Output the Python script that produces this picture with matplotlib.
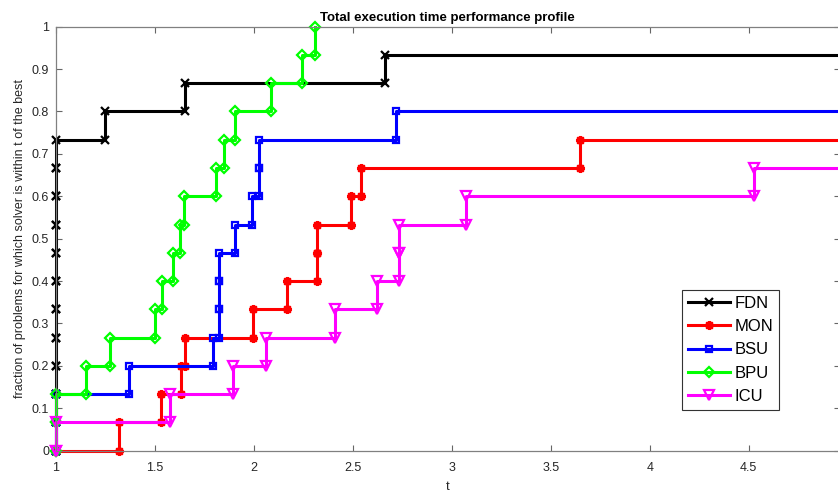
import numpy as np
import matplotlib.pyplot as plt

plt.rcParams['font.family'] = ['Liberation Sans', 'DejaVu Sans']

# performance ratios per solver (15 problems), unsolved ones sit off the plot
n_problems = 15
fail = 10.0

solvers = ['FDN', 'MON', 'BSU', 'BPU', 'ICU']
fdn = [1, 1, 1, 1, 1, 1, 1, 1, 1, 1, 1, 1.249, 1.65, 2.665, fail]
mon = [1.32, 1.53, 1.63, 1.652, 1.997, 2.165, 2.32, 2.32, 2.49, 2.54, 3.646,
       fail, fail, fail, fail]
bsu = [1, 1, 1.37, 1.795, 1.825, 1.825, 1.825, 1.904, 1.988, 2.025, 2.025, 2.72,
       fail, fail, fail]
bpu = [1, 1, 1.152, 1.273, 1.50, 1.537, 1.591, 1.626, 1.648, 1.808, 1.848, 1.904,
       2.084, 2.241, 2.31]
icu = [1, 1.576, 1.892, 2.061, 2.409, 2.62, 2.735, 2.735, 3.07, 4.525,
       fail, fail, fail, fail, fail]

x_ticks = [1, 1.5, 2, 2.5, 3, 3.5, 4, 4.5]
x_labels = ['1', '1.5', '2', '2.5', '3', '3.5', '4', '4.5']
y_ticks = [0, 0.1, 0.2, 0.3, 0.4, 0.5, 0.6, 0.7, 0.8, 0.9, 1]
y_labels = ['0', '0.1', '0.2', '0.3', '0.4', '0.5', '0.6', '0.7', '0.8', '0.9', '1']

colors = ['k', (1, 0, 0), (0, 0, 1), (0, 1, 0), (1, 0, 1)]
markers = ['x', (8, 2, 0), 's', 'D', 'v']
msizes = [6, 6.5, 5, 5, 7.5]


def stairs(ratios):
    # same vertices matlab's stairs() gives, starting from (1, 0)
    r = np.sort(np.asarray(ratios, dtype=float))
    y = np.arange(1, len(r) + 1) / float(n_problems)
    xs = np.concatenate([[1.0], np.repeat(r, 2)])
    ys = np.concatenate([[0.0, 0.0], np.repeat(y, 2)[:-1]])
    return xs, ys


fig = plt.figure(figsize=(8.38, 4.94), dpi=100)
ax = fig.add_axes([0.0668, 0.0877, 0.9352, 0.8583])

for name, data, c, m, ms in zip(solvers, [fdn, mon, bsu, bpu, icu], colors, markers, msizes):
    xs, ys = stairs(data)
    ax.plot(xs, ys, '-', color=c, marker=m, markersize=ms, markerfacecolor='none',
            markeredgecolor=c, markeredgewidth=1.6, linewidth=2.2, label=name,
            clip_on=False)

ax.set_xlim(1, 4.96)
ax.set_ylim(0, 1)
ax.set_xticks(x_ticks)
ax.set_xticklabels(x_labels)
ax.set_yticks(y_ticks)
ax.set_yticklabels(y_labels)

ax.tick_params(direction='in', top=True, right=True, length=4, width=0.8,
               color='0.4', labelsize=9, labelcolor='#262626')
ax.tick_params(axis='x', pad=8)
ax.tick_params(axis='y', pad=5)
for s in ax.spines.values():
    s.set_color('0.5')
    s.set_linewidth(0.9)

ax.set_title('Total execution time performance profile', fontsize=9.5,
             fontweight='bold', pad=4)
ax.set_xlabel('t', fontsize=9.5, color='#262626', labelpad=5)
ax.set_ylabel('fraction of problems for which solver is within t of the best',
              fontsize=9, color='#262626', labelpad=4)

leg = ax.legend(loc='upper left', bbox_to_anchor=(0.814, 0.413),
                bbox_transform=fig.transFigure, borderaxespad=0,
                numpoints=1, fontsize=12, handlelength=2.5, handletextpad=0.3,
                labelspacing=0.5, borderpad=0.35, fancybox=False, framealpha=1)
leg.get_frame().set_edgecolor('0.2')
leg.get_frame().set_linewidth(0.8)

plt.savefig('out.png', dpi=100)
plt.close()
